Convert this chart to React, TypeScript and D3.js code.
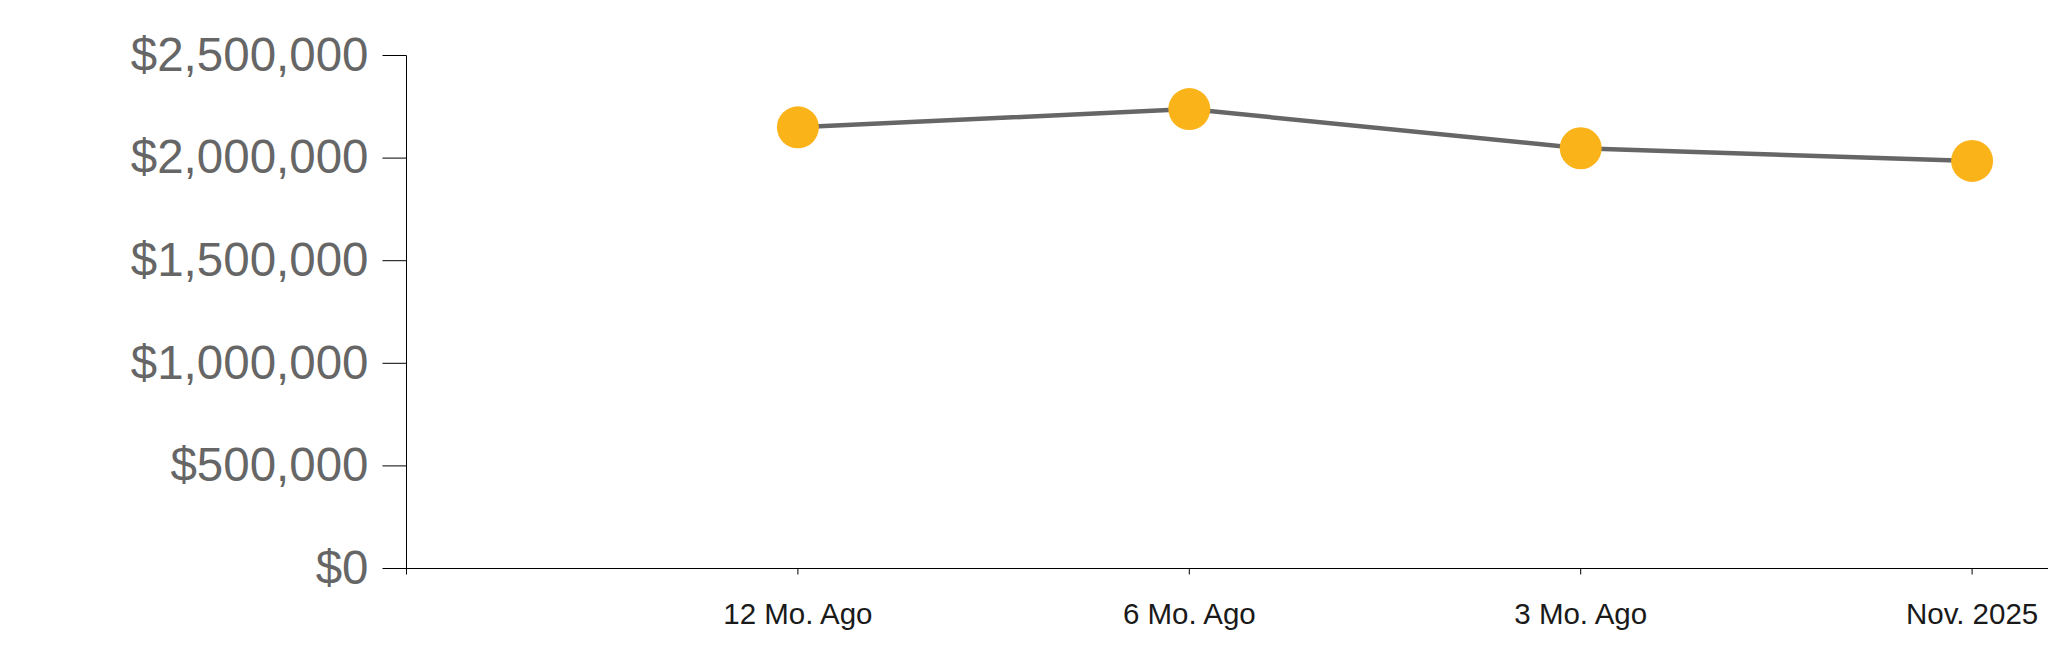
import React from "react";
import * as d3 from "d3";

const categories = ["12 Mo. Ago", "6 Mo. Ago", "3 Mo. Ago", "Nov. 2025"];
const values = [2150000, 2239000, 2048000, 1986000];
const yTicks = [0, 500000, 1000000, 1500000, 2000000, 2500000];

const W = 2048;
const H = 663;
const axisX = 406.5;
const axisY = 568.5;
const topY = 55.5;
const step = 391.4;

export default function App() {
  const x = d3
    .scaleLinear()
    .domain([-1, categories.length - 1])
    .range([axisX, axisX + step * categories.length]);
  const y = d3.scaleLinear().domain([0, 2500000]).range([axisY, topY]);
  const fmt = (v: number) => "$" + d3.format(",")(v);
  const line = d3
    .line<number>()
    .x((_, i) => x(i))
    .y((d) => y(d));
  const font = "'Liberation Sans', Arial, Helvetica, sans-serif";

  return (
    <svg
      width={W}
      height={H}
      style={{ position: "absolute", left: 0, top: 0, background: "#fff" }}
    >
      {/* Y axis */}
      <g>
        <line x1={axisX} x2={axisX} y1={topY} y2={axisY + 6} stroke="#000" strokeWidth={1} />
        {yTicks.map((t) => (
          <g key={t} transform={`translate(0,${y(t)})`}>
            <line x1={axisX - 24} x2={axisX} stroke="#000" strokeWidth={1} />
            <text
              x={axisX - 38}
              dy="0.32em"
              textAnchor="end"
              fontFamily={font}
              fontSize={47.5}
              fill="#666"
            >
              {fmt(t)}
            </text>
          </g>
        ))}
      </g>
      {/* X axis */}
      <g>
        <line x1={axisX} x2={W} y1={axisY} y2={axisY} stroke="#000" strokeWidth={1} />
        {categories.map((c, i) => (
          <g key={c} transform={`translate(${x(i)},${axisY})`}>
            <line y1={0} y2={6} stroke="#000" strokeWidth={1} />
            <text
              y={55}
              textAnchor="middle"
              fontFamily={font}
              fontSize={29.5}
              fill="#1a1a1a"
            >
              {c}
            </text>
          </g>
        ))}
      </g>
      {/* Line */}
      <path d={line(values) || ""} fill="none" stroke="#666" strokeWidth={4.5} />
      {values.map((v, i) => (
        <circle key={i} cx={x(i)} cy={y(v)} r={21} fill="#fbb31a" />
      ))}
    </svg>
  );
}
